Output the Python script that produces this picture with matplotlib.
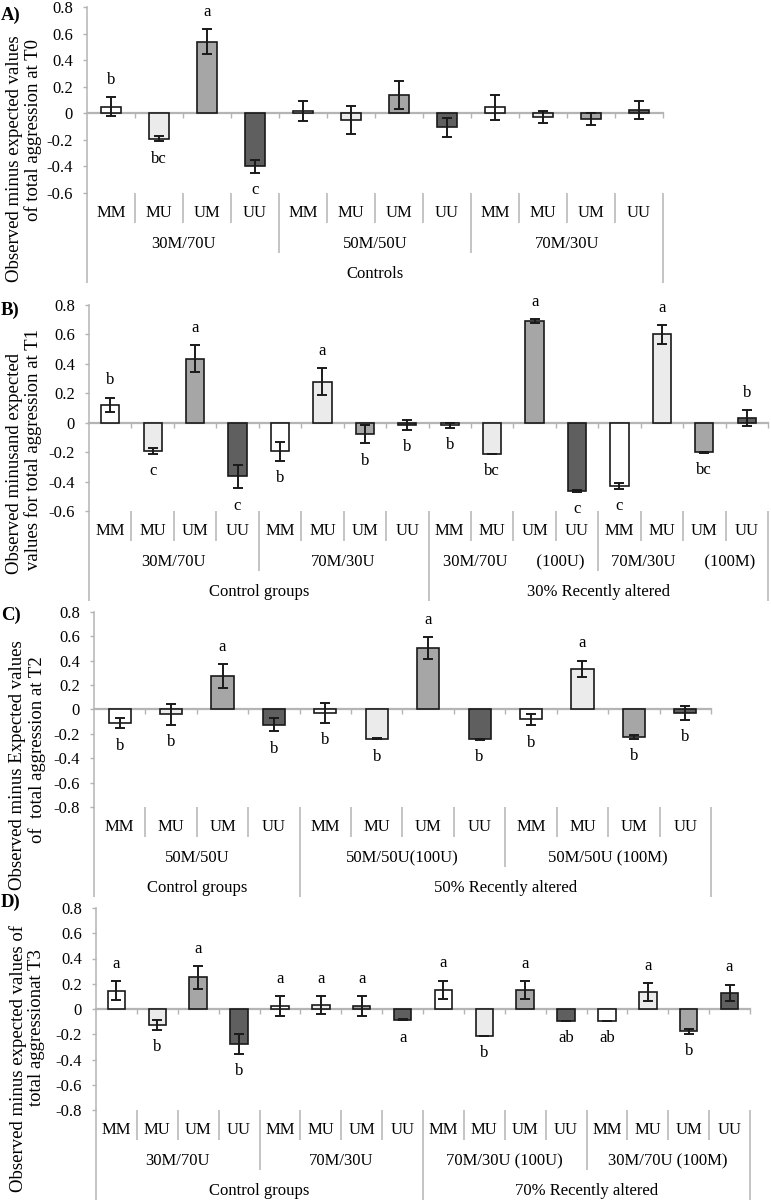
import numpy as np
import matplotlib
matplotlib.use('Agg')
import matplotlib.pyplot as plt
import matplotlib.transforms as mtransforms
from matplotlib.ticker import FuncFormatter

plt.rcParams['font.family'] = ['Liberation Serif', 'DejaVu Serif']

# ---------------- data ----------------
pair_labels = ['MM', 'MU', 'UM', 'UU']

A_values = [0.05, -0.19, 0.54, -0.40, 0.015, -0.05, 0.135, -0.105, 0.045, -0.025, -0.04, 0.025]
A_errors = [0.072, 0.02, 0.095, 0.05, 0.075, 0.105, 0.105, 0.07, 0.095, 0.045, 0.045, 0.07]
A_letters = ['b', 'bc', 'a', 'c', '', '', '', '', '', '', '', '']
A_groups = ['30M/70U', '50M/50U', '70M/30U']
A_top = ['Controls']
A_top_sizes = [3]

B_values = [0.12, -0.19, 0.435, -0.365, -0.195, 0.28, -0.078, -0.015,
            -0.018, -0.21, 0.69, -0.465, -0.43, 0.60, -0.20, 0.032]
B_errors = [0.05, 0.02, 0.09, 0.08, 0.065, 0.09, 0.062, 0.035,
            0.015, 0.0, 0.015, 0.005, 0.018, 0.065, 0.004, 0.055]
B_letters = ['b', 'c', 'a', 'c', 'b', 'a', 'b', 'b',
             'b', 'bc', 'a', 'c', 'c', 'a', 'bc', 'b']
B_groups = ['30M/70U       (100U)', '70M/30U       (100M)']
B_groups = ['30M/70U', '70M/30U'] + B_groups
B_top = ['Control groups', '30% Recently altered']
B_top_sizes = [2, 2]

C_values = [-0.11, -0.04, 0.275, -0.125, -0.025, -0.238, 0.505, -0.245,
            -0.082, 0.333, -0.224, -0.027]
C_errors = [0.043, 0.085, 0.098, 0.055, 0.082, 0.006, 0.088, 0.003,
            0.047, 0.067, 0.016, 0.057]
C_letters = ['b', 'b', 'a', 'b', 'b', 'b', 'a', 'b', 'b', 'a', 'b', 'b']
C_groups = ['50M/50U', '50M/50U(100U)', '50M/50U (100M)']
C_top = ['Control groups', '50% Recently altered']
C_top_sizes = [1, 2]

D_values = [0.146, -0.125, 0.25, -0.275, 0.024, 0.034, 0.021, -0.085,
            0.151, -0.212, 0.148, -0.093, -0.093, 0.132, -0.177, 0.13]
D_errors = [0.074, 0.04, 0.09, 0.08, 0.077, 0.07, 0.08, 0.004,
            0.074, 0.0, 0.072, 0.0, 0.0, 0.07, 0.018, 0.063]
D_letters = ['a', 'b', 'a', 'b', 'a', 'a', 'a', 'a',
             'a', 'b', 'a', 'ab', 'ab', 'a', 'b', 'a']
D_groups = ['30M/70U', '70M/30U', '70M/30U (100U)', '30M/70U (100M)']
D_top = ['Control groups', '70% Recently altered']
D_top_sizes = [2, 2]

# ---------------- style ----------------
pair_colors = ['#ffffff', '#ebebeb', '#a6a6a6', '#5f5f5f']
edge = '#1a1a1a'
gray = '#b4b4b4'
FS_TICK = 12
FS_CAT = 12
FS_LAB = 13.5

W, H = 771, 1201
fig = plt.figure(figsize=(W / 100, H / 100), dpi=100)


def fmt(v, _):
    if abs(v) < 1e-9:
        return '0'
    return ('%.1f' % v).replace('\u2212', '-')


def panel(box, ylim, yticks, values, errors, letters, groups, top, top_sizes,
          ylines, tag, tag_y):
    l, t, r, b = box
    hpx = b - t
    ax = fig.add_axes([l / W, 1 - b / H, (r - l) / W, hpx / H])
    n = len(values)
    x = np.arange(n)
    cols = [pair_colors[i % 4] for i in range(n)]
    ax.bar(x, values, width=0.43, color=cols, edgecolor=edge, linewidth=1.2, zorder=3)
    ax.errorbar(x, values, yerr=errors, fmt='none', ecolor=edge, elinewidth=1.4,
                capsize=3.6, capthick=1.4, zorder=4)
    ax.set_xlim(-0.5, n - 0.5)
    ax.set_ylim(*ylim)
    ax.set_yticks(yticks)
    ax.yaxis.set_major_formatter(FuncFormatter(fmt))
    ax.set_xticks(np.arange(0.5, n, 1.0))
    ax.tick_params(axis='x', direction='out', length=3.5, color=gray, width=1,
                   labelbottom=False)
    ax.tick_params(axis='y', direction='out', length=3, color=gray, width=1,
                   labelsize=FS_TICK, pad=7)
    for s in ('top', 'right'):
        ax.spines[s].set_visible(False)
    ax.spines['left'].set_color(gray)
    ax.spines['left'].set_linewidth(1.1)
    ax.spines['bottom'].set_position(('data', 0))
    ax.spines['bottom'].set_color(gray)
    ax.spines['bottom'].set_linewidth(1.6)
    ax.spines['bottom'].set_zorder(2)
    ax.patch.set_visible(False)

    # letters
    for i, (v, e, let) in enumerate(zip(values, errors, letters)):
        if not let:
            continue
        if v >= 0:
            ax.annotate(let, (i, v + e), xytext=(0, 12.5), textcoords='offset points',
                        ha='center', va='center', fontsize=FS_CAT)
        else:
            ax.annotate(let, (i, v - e), xytext=(0, -12.5), textcoords='offset points',
                        ha='center', va='center', fontsize=FS_CAT)

    # multi-level category axis
    trans = mtransforms.blended_transform_factory(ax.transData, ax.transAxes)
    ngroups = len(groups)
    gsize = n // ngroups
    top_bounds = set([0, n])
    acc = 0
    for s in top_sizes:
        acc += s * gsize
        top_bounds.add(acc)
    for k in range(n + 1):
        if k in top_bounds:
            depth = 90
        elif k % gsize == 0:
            depth = 60
        else:
            depth = 30
        ax.plot([k - 0.5, k - 0.5], [0, -depth / hpx], transform=trans,
                color=gray, lw=1.1, clip_on=False, solid_capstyle='butt')
    for i in range(n):
        ax.text(i, -20 / hpx, pair_labels[i % 4], transform=trans, ha='center',
                va='center', fontsize=FS_CAT)
    for g, name in enumerate(groups):
        cx = g * gsize + (gsize - 1) / 2
        ax.text(cx, -51 / hpx, name, transform=trans, ha='center', va='center',
                fontsize=FS_CAT)
    start = 0
    for name, s in zip(top, top_sizes):
        cx = start + (s * gsize - 1) / 2
        ax.text(cx, -81 / hpx, name, transform=trans, ha='center', va='center',
                fontsize=FS_CAT)
        start += s * gsize

    # y label lines
    for (txt, xc, yc) in ylines:
        fig.text(xc / W, 1 - yc / H, txt, rotation=90, ha='center', va='center',
                 fontsize=FS_LAB)
    fig.text(1 / W, 1 - tag_y / H, tag, ha='left', va='center', fontsize=FS_LAB,
             fontweight='bold')
    return ax


yt6 = [-0.6, -0.4, -0.2, 0, 0.2, 0.4, 0.6, 0.8]
yt8 = [-0.8, -0.6, -0.4, -0.2, 0, 0.2, 0.4, 0.6, 0.8]

panel((87, 7, 663, 193), (-0.6, 0.8), yt6, A_values, A_errors, A_letters,
      A_groups, A_top, A_top_sizes,
      [('Observed minus expected values', 15, 159),
       ('of total aggression at T0', 33, 130)], 'A)', 15)

panel((89, 305, 768, 511), (-0.6, 0.8), yt6, B_values, B_errors, B_letters,
      B_groups, B_top, B_top_sizes,
      [('Observed minusand expected', 15, 463),
       ('values for total aggression at T1', 33, 450)], 'B)', 310)

panel((94, 612, 711, 807), (-0.8, 0.8), yt8, C_values, C_errors, C_letters,
      C_groups, C_top, C_top_sizes,
      [('Observed minus Expected values', 18, 765),
       ('of  total aggression at T2', 37, 750)], 'C)', 615)

panel((96, 908, 750, 1110), (-0.8, 0.8), yt8, D_values, D_errors, D_letters,
      D_groups, D_top, D_top_sizes,
      [('Observed minus expected values of', 18, 1059),
       ('total aggressionat T3', 37, 1028)], 'D)', 902)

fig.savefig('out.png', dpi=100)
